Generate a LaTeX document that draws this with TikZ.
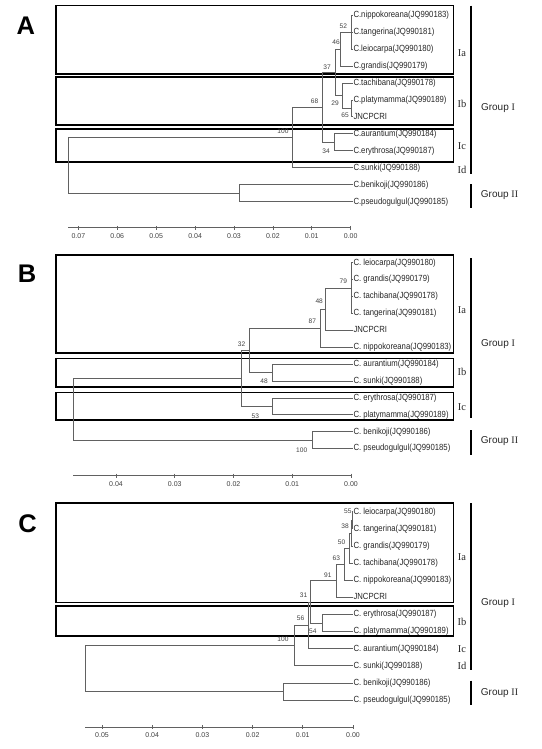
\documentclass[tikz,border=0pt]{standalone}
\usepackage{fontspec}
\setmainfont{Liberation Sans}
\newfontfamily\romfont{Liberation Serif}
\newfontfamily\leaffont[FakeStretch=0.87]{Liberation Sans}
\begin{document}
\begin{tikzpicture}[x=1pt,y=-1pt,
  tree/.style={draw=black!62, line width=0.65pt},
  gbox/.style={draw=black, line width=1.6pt},
  gbar/.style={draw=black, line width=1.7pt},
  leaf/.style={anchor=west, inner sep=0pt, text=black!85, font=\leaffont\fontsize{8.9}{10}\selectfont, text height=6.5pt, text depth=1.9pt},
  boot/.style={inner sep=0pt, text=black!75, font=\fontsize{6.6}{7}\selectfont},
  sclab/.style={inner sep=0pt, text=black!75, font=\fontsize{7}{8}\selectfont},
  sublab/.style={inner sep=0pt, text=black!85, font=\romfont\fontsize{10.5}{12}\selectfont},
  grplab/.style={inner sep=0pt, text=black!85, font=\fontsize{10}{12}\selectfont},
  panlab/.style={inner sep=0pt, font=\bfseries\fontsize{25.5}{28}\selectfont},
]
\useasboundingbox (0,0) rectangle (541,749);

% ================= Panel A =================
\node[panlab] (pA) at (25.9,25.8) {A};
\draw[gbox] (56.2,5.7) rectangle (453.3,74);
\draw[gbox] (56.2,77.3) rectangle (453.3,125);
\draw[gbox] (56.2,129.3) rectangle (453.3,161.7);
\draw[gbar] (471,5.7) -- (471,174.3);
\draw[gbar] (471,184) -- (471,208.3);
\node[sublab] (aIa) at (462,53.3) {Ia};
\node[sublab] (aIb) at (462,104.3) {Ib};
\node[sublab] (aIc) at (462,146) {Ic};
\node[sublab] (aId) at (462,170) {Id};
\node[grplab] (aG1) at (498,108.3) {Group {\romfont I}};
\node[grplab] (aG2) at (499.5,195.5) {Group {\romfont II}};

\node[leaf] (aNip) at (353.3,15) {C.nippokoreana(JQ990183)};
\node[leaf] (aTan) at (353.3,32) {C.tangerina(JQ990181)};
\node[leaf] (aLei) at (353.3,48.9) {C.leiocarpa(JQ990180)};
\node[leaf] (aGra) at (353.3,65.9) {C.grandis(JQ990179)};
\node[leaf] (aTac) at (353.3,82.9) {C.tachibana(JQ990178)};
\node[leaf] (aPla) at (353.3,99.9) {C.platymamma(JQ990189)};
\node[leaf] (aJnc) at (353.3,116.8) {JNCPCRI};
\node[leaf] (aAur) at (353.3,133.8) {C.aurantium(JQ990184)};
\node[leaf] (aEry) at (353.3,150.8) {C.erythrosa(JQ990187)};
\node[leaf] (aSun) at (353.3,167.7) {C.sunki(JQ990188)};
\node[leaf] (aBen) at (353.3,184.7) {C.benikoji(JQ990186)};
\node[leaf] (aPse) at (353.3,201.7) {C.pseudogulgul(JQ990185)};

\coordinate (a52) at (351,32);
\coordinate (a46) at (340.5,48.9);
\coordinate (a65) at (351,108.4);
\coordinate (a29) at (342,95.6);
\coordinate (a37) at (335,72.3);
\coordinate (a34) at (334.5,142.3);
\coordinate (a68) at (322.5,107.3);
\coordinate (a100) at (292.5,137.5);
\coordinate (aII) at (239,193.2);
\coordinate (aR) at (68,165.3);

\draw[tree] (a52) |- (aNip.west) (a52) |- (aTan.west) (a52) |- (aLei.west);
\draw[tree] (a46) |- (a52) (a46) |- (aGra.west);
\draw[tree] (a65) |- (aPla.west) (a65) |- (aJnc.west);
\draw[tree] (a29) |- (aTac.west) (a29) |- (a65);
\draw[tree] (a37) |- (a46) (a37) |- (a29);
\draw[tree] (a34) |- (aAur.west) (a34) |- (aEry.west);
\draw[tree] (a68) |- (a37) (a68) |- (a34);
\draw[tree] (a100) |- (a68) (a100) |- (aSun.west);
\draw[tree] (aII) |- (aBen.west) (aII) |- (aPse.west);
\draw[tree] (aR) |- (a100) (aR) |- (aII);

\node[boot] (ab52) at (343.3,26.7) {52};
\node[boot] (ab46) at (336,42.5) {46};
\node[boot] (ab37) at (327,67) {37};
\node[boot] (ab68) at (314.5,101.3) {68};
\node[boot] (ab29) at (335,103.3) {29};
\node[boot] (ab65) at (345,115.5) {65};
\node[boot] (ab100) at (283,131.7) {100};
\node[boot] (ab34) at (326,151) {34};

\coordinate (aS0) at (350.7,227.8);
\coordinate (aS1) at (68,227.8);
\draw[tree] (aS1) -- (aS0);
\foreach \k in {0,...,7}{
  \pgfmathsetmacro\xx{350.7-38.9*\k}
  \draw[tree] (\xx,225.8) -- (\xx,229.8);
  \node[sclab] (aT\k) at (\xx,236) {0.0\k};
}

% ================= Panel B =================
\node[panlab] (pB) at (27,273.3) {B};
\draw[gbox] (56.2,255) rectangle (453.3,352.7);
\draw[gbox] (56.2,358.3) rectangle (453.3,386.7);
\draw[gbox] (56.2,392.3) rectangle (453.3,420);
\draw[gbar] (471,258.3) -- (471,418.3);
\draw[gbar] (471,430) -- (471,455);
\node[sublab] (bIa) at (462,310) {Ia};
\node[sublab] (bIb) at (462,371.7) {Ib};
\node[sublab] (bIc) at (462,406.7) {Ic};
\node[grplab] (bG1) at (498,344) {Group {\romfont I}};
\node[grplab] (bG2) at (499.5,441) {Group {\romfont II}};

\node[leaf] (bLei) at (353.3,262.7) {C. leiocarpa(JQ990180)};
\node[leaf] (bGra) at (353.3,279.6) {C. grandis(JQ990179)};
\node[leaf] (bTac) at (353.3,296.5) {C. tachibana(JQ990178)};
\node[leaf] (bTan) at (353.3,313.4) {C. tangerina(JQ990181)};
\node[leaf] (bJnc) at (353.3,330.3) {JNCPCRI};
\node[leaf] (bNip) at (353.3,347.2) {C. nippokoreana(JQ990183)};
\node[leaf] (bAur) at (353.3,364.1) {C. aurantium(JQ990184)};
\node[leaf] (bSun) at (353.3,381) {C. sunki(JQ990188)};
\node[leaf] (bEry) at (353.3,397.9) {C. erythrosa(JQ990187)};
\node[leaf] (bPla) at (353.3,414.8) {C. platymamma(JQ990189)};
\node[leaf] (bBen) at (353.3,431.7) {C. benikoji(JQ990186)};
\node[leaf] (bPse) at (353.3,448.6) {C. pseudogulgul(JQ990185)};

\coordinate (b79) at (351.3,288);
\coordinate (b48a) at (325,309.2);
\coordinate (b87) at (320,328.2);
\coordinate (b48b) at (272.6,372.6);
\coordinate (b32) at (249,350.4);
\coordinate (b53) at (272.6,406.4);
\coordinate (bX) at (241.5,378.4);
\coordinate (bII) at (312.7,440.2);
\coordinate (bR) at (73.4,409.3);

\draw[tree] (b79) |- (bLei.west) (b79) |- (bGra.west) (b79) |- (bTac.west) (b79) |- (bTan.west);
\draw[tree] (b48a) |- (b79) (b48a) |- (bJnc.west);
\draw[tree] (b87) |- (b48a) (b87) |- (bNip.west);
\draw[tree] (b48b) |- (bAur.west) (b48b) |- (bSun.west);
\draw[tree] (b32) |- (b87) (b32) |- (b48b);
\draw[tree] (b53) |- (bEry.west) (b53) |- (bPla.west);
\draw[tree] (bX) |- (b32) (bX) |- (b53);
\draw[tree] (bII) |- (bBen.west) (bII) |- (bPse.west);
\draw[tree] (bR) |- (bX) (bR) |- (bII);

\node[boot] (bb79) at (343.3,281.7) {79};
\node[boot] (bb48a) at (319.2,301.7) {48};
\node[boot] (bb87) at (312.3,321.7) {87};
\node[boot] (bb32) at (241.5,344) {32};
\node[boot] (bb48b) at (264,381.7) {48};
\node[boot] (bb53) at (255.3,416.7) {53};
\node[boot] (bb100) at (301.7,450) {100};

\coordinate (bS0) at (351,475.7);
\coordinate (bS1) at (73.4,475.7);
\draw[tree] (bS1) -- (bS0);
\foreach \k in {0,...,4}{
  \pgfmathsetmacro\xx{351-58.75*\k}
  \draw[tree] (\xx,473.7) -- (\xx,477.7);
  \node[sclab] (bT\k) at (\xx,484) {0.0\k};
}

% ================= Panel C =================
\node[panlab] (pC) at (27.6,523.3) {C};
\draw[gbox] (56.2,502.7) rectangle (453.3,602.3);
\draw[gbox] (56.2,605.7) rectangle (453.3,636);
\draw[gbar] (471,503.3) -- (471,670);
\draw[gbar] (471,680.7) -- (471,705);
\node[sublab] (cIa) at (462,556.7) {Ia};
\node[sublab] (cIb) at (462,622.3) {Ib};
\node[sublab] (cIc) at (462,649) {Ic};
\node[sublab] (cId) at (462,665.7) {Id};
\node[grplab] (cG1) at (498,602.7) {Group {\romfont I}};
\node[grplab] (cG2) at (499.5,693.3) {Group {\romfont II}};

\node[leaf] (cLei) at (353.3,511.7) {C. leiocarpa(JQ990180)};
\node[leaf] (cTan) at (353.3,528.8) {C. tangerina(JQ990181)};
\node[leaf] (cGra) at (353.3,545.9) {C. grandis(JQ990179)};
\node[leaf] (cTac) at (353.3,563.1) {C. tachibana(JQ990178)};
\node[leaf] (cNip) at (353.3,580.2) {C. nippokoreana(JQ990183)};
\node[leaf] (cJnc) at (353.3,597.3) {JNCPCRI};
\node[leaf] (cEry) at (353.3,614.4) {C. erythrosa(JQ990187)};
\node[leaf] (cPla) at (353.3,631.5) {C. platymamma(JQ990189)};
\node[leaf] (cAur) at (353.3,648.7) {C. aurantium(JQ990184)};
\node[leaf] (cSun) at (353.3,665.8) {C. sunki(JQ990188)};
\node[leaf] (cBen) at (353.3,682.9) {C. benikoji(JQ990186)};
\node[leaf] (cPse) at (353.3,700) {C. pseudogulgul(JQ990185)};

\coordinate (c55) at (352.3,520.3);
\coordinate (c38) at (351,533.1);
\coordinate (c50) at (349.5,548.1);
\coordinate (c63) at (344.5,564.2);
\coordinate (c91) at (336.5,580.7);
\coordinate (c54) at (322.6,623);
\coordinate (c31) at (310.6,601.9);
\coordinate (c56) at (308.1,625.3);
\coordinate (c100) at (294.3,645.5);
\coordinate (cII) at (283.8,691.5);
\coordinate (cR) at (85.3,668.5);

\draw[tree] (c55) |- (cLei.west) (c55) |- (cTan.west);
\draw[tree] (c38) |- (c55) (c38) |- (cGra.west);
\draw[tree] (c50) |- (c38) (c50) |- (cTac.west);
\draw[tree] (c63) |- (c50) (c63) |- (cNip.west);
\draw[tree] (c91) |- (c63) (c91) |- (cJnc.west);
\draw[tree] (c54) |- (cEry.west) (c54) |- (cPla.west);
\draw[tree] (c31) |- (c91) (c31) |- (c54);
\draw[tree] (c56) |- (c31) (c56) |- (cAur.west);
\draw[tree] (c100) |- (c56) (c100) |- (cSun.west);
\draw[tree] (cII) |- (cBen.west) (cII) |- (cPse.west);
\draw[tree] (cR) |- (c100) (cR) |- (cII);

\node[boot] (cb55) at (347.8,511.7) {55};
\node[boot] (cb38) at (345,526.7) {38};
\node[boot] (cb50) at (341.6,542.7) {50};
\node[boot] (cb63) at (336.4,558.3) {63};
\node[boot] (cb91) at (327.8,575) {91};
\node[boot] (cb31) at (303.5,595) {31};
\node[boot] (cb56) at (300.5,618.5) {56};
\node[boot] (cb54) at (312.8,631.2) {54};
\node[boot] (cb100) at (283,639.5) {100};

\coordinate (cS0) at (353,727);
\coordinate (cS1) at (85.3,727);
\draw[tree] (cS1) -- (cS0);
\foreach \k in {0,...,5}{
  \pgfmathsetmacro\xx{353-50.2*\k}
  \draw[tree] (\xx,725) -- (\xx,729);
  \node[sclab] (cT\k) at (\xx,735) {0.0\k};
}
\end{tikzpicture}
\end{document}
